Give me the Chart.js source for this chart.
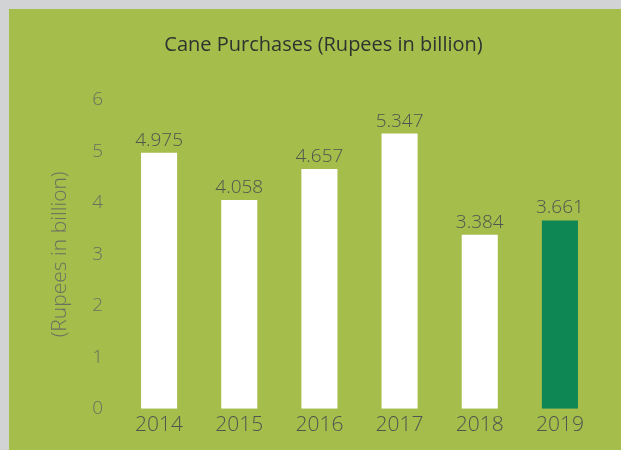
<html>
<head>
  <title>Cane Purchases</title>
  <script src="https://cdn.jsdelivr.net/npm/chart.js"></script>
  <style>
    body { margin: 0; background: #d1d3d5; }
    #wrap { position: absolute; left: 9px; top: 9px; width: 612px; height: 441px; background: #a5bd4a; }
  </style>
</head>
<body>
  <div id="wrap"><canvas id="caneChart" width="612" height="441"></canvas></div>

  <script>
    // Chart data
    const years = ['2014', '2015', '2016', '2017', '2018', '2019'];
    const purchases = [4.975, 4.058, 4.657, 5.347, 3.384, 3.661];
    const yTicks = [0, 1, 2, 3, 4, 5, 6];

    const fontFamily = "'Open Sans', sans-serif";

    // Draw value labels above each bar
    const valueLabels = {
      id: 'valueLabels',
      afterDatasetsDraw(chart) {
        const ctx = chart.ctx;
        const meta = chart.getDatasetMeta(0);
        ctx.save();
        ctx.font = '300 19px ' + fontFamily;
        ctx.fillStyle = '#4f5550';
        ctx.textAlign = 'center';
        ctx.textBaseline = 'bottom';
        meta.data.forEach((bar, i) => {
          ctx.fillText(purchases[i].toFixed(3), bar.x, bar.y - 3);
        });
        ctx.restore();
      }
    };

    new Chart(document.getElementById('caneChart'), {
      type: 'bar',
      data: {
        labels: years,
        datasets: [{
          data: purchases,
          backgroundColor: years.map((y, i) => i === years.length - 1 ? '#0e8754' : '#ffffff'),
          borderWidth: 0,
          barPercentage: 0.45,
          categoryPercentage: 1
        }]
      },
      options: {
        responsive: false,
        animation: false,
        layout: { padding: { left: 38, right: 21, top: 0, bottom: 8 } },
        plugins: {
          legend: { display: false },
          tooltip: { enabled: false },
          title: {
            display: true,
            text: 'Cane Purchases (Rupees in billion)',
            color: '#2f3330',
            font: { family: fontFamily, size: 20, weight: 'normal' },
            padding: { top: 24, bottom: 43 }
          }
        },
        scales: {
          x: {
            grid: { display: false, drawTicks: false },
            border: { display: false },
            ticks: {
              color: '#4f5550',
              font: { family: fontFamily, size: 21, weight: '300' },
              padding: 4
            }
          },
          y: {
            min: 0,
            max: yTicks[yTicks.length - 1],
            afterBuildTicks: scale => { scale.ticks = yTicks.map(v => ({ value: v })); },
            afterFit: scale => { scale.width = 72; },
            grid: { display: false, drawTicks: false },
            border: { display: false },
            ticks: {
              color: '#6b7060',
              font: { family: fontFamily, size: 19, weight: '300' },
              padding: 16
            },
            title: {
              display: true,
              text: '(Rupees in billion)',
              color: '#6b7060',
              font: { family: fontFamily, size: 21, weight: '300' },
              padding: 0
            }
          }
        }
      },
      plugins: [valueLabels]
    });
  </script>
</body>
</html>
